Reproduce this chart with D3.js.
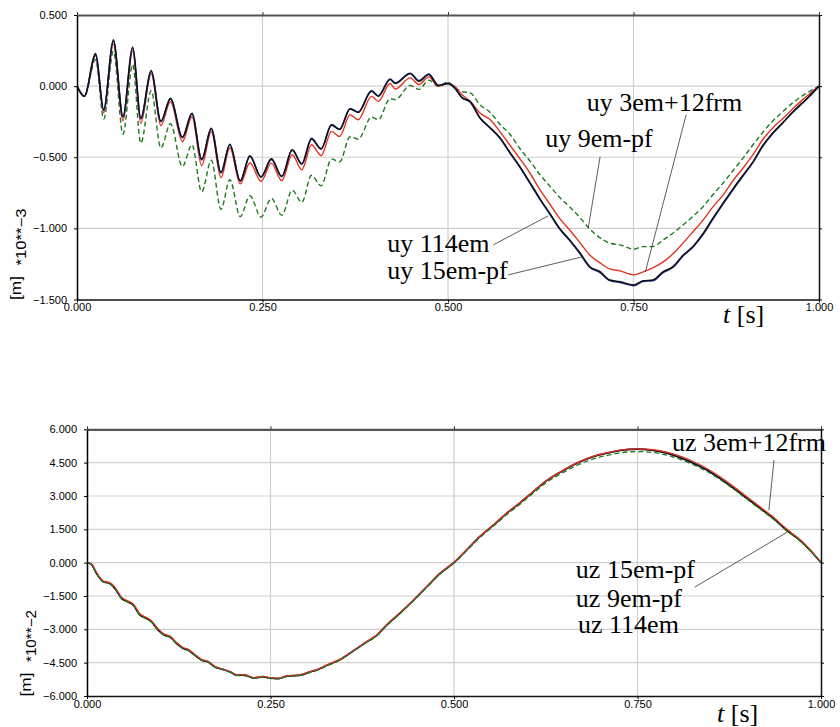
<!DOCTYPE html>
<html><head><meta charset="utf-8">
<script src="https://cdn.jsdelivr.net/npm/d3@7"></script>
<style>
body{margin:0;background:#fff}
svg{display:block;background:#fff}
.tick text{font-family:"Liberation Sans",Arial,sans-serif;font-size:11px;fill:#000}
.lbl{font-family:"Liberation Serif","Times New Roman",Times,serif;font-size:26px;fill:#000}
.unit{font-family:"Liberation Sans",Arial,sans-serif;fill:#000}
</style></head><body>
<svg id="c" width="840" height="727"></svg>
<script>
// ---------- data ----------
const xTicks = [0, 0.25, 0.5, 0.75, 1];
const uyTicks = [0.5, 0, -0.5, -1, -1.5];
const uzTicks = [6, 4.5, 3, 1.5, 0, -1.5, -3, -4.5, -6];

// top panel: uy [m] *10**-3
const tTop = [0.000,0.010,0.025,0.036,0.049,0.062,0.075,0.086,0.100,0.113,0.126,0.142,0.155,0.168,0.181,0.194,0.206,0.220,0.233,0.248,0.262,0.276,0.290,0.303,0.316,0.329,0.343,0.354,0.368,0.379,0.397,0.406,0.422,0.429,0.449,0.461,0.474,0.487,0.500,
  0.509,0.519,0.530,0.543,0.557,0.570,0.584,0.597,0.611,0.624,0.637,0.651,0.664,0.678,0.691,0.705,0.718,0.732,0.750,0.763,0.776,0.790,0.803,0.817,0.830,0.844,0.857,0.871,0.884,0.898,0.911,0.925,0.938,0.951,0.965,0.978,0.989,1.000];
const uy114em = [0,-0.072,0.229,-0.165,0.327,-0.213,0.276,-0.224,0.111,-0.246,-0.085,-0.359,-0.190,-0.514,-0.296,-0.606,-0.408,-0.665,-0.489,-0.637,-0.511,-0.634,-0.447,-0.546,-0.372,-0.442,-0.275,-0.306,-0.161,-0.185,-0.037,-0.072,0.046,0.018,0.088,0.034,0.081,0.004,0.018,
  -0.013,-0.083,-0.109,-0.224,-0.292,-0.363,-0.470,-0.567,-0.682,-0.792,-0.893,-1.004,-1.081,-1.173,-1.269,-1.304,-1.363,-1.375,-1.398,-1.368,-1.363,
  -1.304,-1.269,-1.187,-1.128,-1.034,-0.928,-0.820,-0.722,-0.623,-0.532,-0.412,-0.327,-0.257,-0.180,-0.116,-0.060,0];
const uy15empf = [0,-0.070,0.222,-0.170,0.318,-0.218,0.268,-0.230,0.104,-0.250,-0.090,-0.362,-0.195,-0.518,-0.300,-0.610,-0.412,-0.668,-0.494,-0.640,-0.515,-0.636,-0.450,-0.548,-0.368,-0.440,-0.270,-0.302,-0.158,-0.182,-0.032,-0.068,0.050,0.022,0.090,0.038,0.084,0.006,0.020,
  -0.012,-0.080,-0.112,-0.222,-0.296,-0.366,-0.474,-0.570,-0.686,-0.796,-0.897,-1.008,-1.085,-1.178,-1.272,-1.310,-1.366,-1.380,-1.402,-1.372,-1.368,
  -1.310,-1.274,-1.192,-1.132,-1.040,-0.934,-0.826,-0.728,-0.628,-0.536,-0.416,-0.330,-0.260,-0.182,-0.118,-0.062,0];
const uy9empf = [0,-0.072,0.187,-0.231,0.245,-0.338,0.151,-0.401,-0.032,-0.435,-0.264,-0.565,-0.412,-0.743,-0.521,-0.866,-0.658,-0.917,-0.771,-0.921,-0.789,-0.908,-0.732,-0.817,-0.627,-0.701,-0.513,-0.532,-0.356,-0.373,-0.218,-0.236,-0.088,-0.095,0.004,-0.023,0.042,0.000,0.028,
  -0.011,-0.039,-0.048,-0.130,-0.185,-0.268,-0.342,-0.440,-0.530,-0.623,-0.701,-0.785,-0.849,-0.926,-1.004,-1.067,-1.104,-1.116,-1.146,-1.128,-1.128,
  -1.081,-1.034,-0.975,-0.917,-0.846,-0.764,-0.680,-0.595,-0.504,-0.412,-0.320,-0.243,-0.180,-0.116,-0.067,-0.032,0];
const uy3em12frm = [0,-0.074,0.215,-0.187,0.299,-0.243,0.250,-0.261,0.088,-0.278,-0.109,-0.391,-0.215,-0.560,-0.320,-0.644,-0.433,-0.687,-0.539,-0.670,-0.541,-0.665,-0.482,-0.588,-0.412,-0.489,-0.318,-0.354,-0.201,-0.236,-0.072,-0.107,0.018,-0.020,0.058,0.011,0.065,-0.001,0.018,
  -0.001,-0.060,-0.107,-0.189,-0.236,-0.320,-0.419,-0.511,-0.616,-0.729,-0.827,-0.933,-1.011,-1.102,-1.187,-1.243,-1.285,-1.299,-1.327,-1.306,-1.278,
  -1.236,-1.180,-1.102,-1.025,-0.940,-0.849,-0.764,-0.665,-0.574,-0.482,-0.370,-0.292,-0.229,-0.158,-0.095,-0.046,0];

// bottom panel: uz [m] *10**-2
const tBot = [0.000,0.006,0.013,0.022,0.031,0.038,0.047,0.056,0.063,0.072,0.081,0.088,0.097,0.106,0.113,0.122,0.131,0.138,0.147,0.156,0.165,0.174,0.184,0.195,0.204,0.215,0.227,0.240,0.249,0.261,0.272,0.290,0.304,0.315,0.327,0.345,0.363,0.381,0.395,0.408,0.426,0.445,0.463,0.481,0.500,0.517,0.535,0.554,0.572,0.590,0.608,0.626,0.644,0.672,0.690,0.708,0.726,0.750,0.772,0.790,0.808,0.826,0.844,0.862,0.881,0.899,0.917,0.935,0.953,0.971,0.985,1.000];
const uz114em = [0,-0.08,-0.49,-0.86,-0.94,-1.16,-1.61,-1.77,-1.91,-2.36,-2.51,-2.67,-3.04,-3.27,-3.34,-3.64,-3.86,-3.94,-4.17,-4.39,-4.47,-4.69,-4.80,-4.92,-5.07,-5.07,-5.19,-5.14,-5.20,-5.22,-5.11,-5.07,-4.92,-4.81,-4.62,-4.36,-3.97,-3.57,-3.27,-2.82,-2.29,-1.69,-1.09,-0.49,0.00,0.56,1.16,1.69,2.22,2.69,3.19,3.68,4.05,4.54,4.77,4.92,5.04,5.10,5.04,4.92,4.72,4.47,4.17,3.79,3.34,2.89,2.44,1.99,1.46,1.01,0.56,0];
const uz15empf = [0,-0.07,-0.48,-0.85,-0.93,-1.15,-1.60,-1.76,-1.90,-2.35,-2.50,-2.66,-3.03,-3.26,-3.33,-3.63,-3.85,-3.93,-4.16,-4.38,-4.46,-4.68,-4.79,-4.91,-5.06,-5.06,-5.18,-5.13,-5.19,-5.21,-5.10,-5.06,-4.91,-4.80,-4.61,-4.35,-3.96,-3.56,-3.26,-2.81,-2.28,-1.68,-1.08,-0.48,0.01,0.57,1.17,1.70,2.23,2.70,3.20,3.69,4.06,4.55,4.78,4.93,5.05,5.11,5.05,4.93,4.73,4.48,4.18,3.80,3.35,2.90,2.45,2.00,1.47,1.02,0.57,0];
const uz9empf = [0,-0.09,-0.50,-0.87,-0.95,-1.18,-1.62,-1.79,-1.93,-2.37,-2.53,-2.68,-3.06,-3.28,-3.36,-3.65,-3.88,-3.96,-4.18,-4.40,-4.49,-4.70,-4.81,-4.93,-5.08,-5.09,-5.20,-5.16,-5.21,-5.23,-5.13,-5.08,-4.94,-4.83,-4.64,-4.38,-3.99,-3.59,-3.29,-2.85,-2.31,-1.71,-1.11,-0.51,-0.02,0.53,1.12,1.65,2.17,2.63,3.13,3.61,3.97,4.44,4.67,4.82,4.94,5.00,4.95,4.84,4.65,4.41,4.12,3.75,3.31,2.86,2.41,1.96,1.44,0.99,0.55,0];
const uz3em12frm = [0,-0.05,-0.44,-0.82,-0.90,-1.10,-1.55,-1.73,-1.86,-2.30,-2.47,-2.62,-2.98,-3.23,-3.30,-3.59,-3.82,-3.90,-4.13,-4.35,-4.44,-4.66,-4.78,-4.90,-5.05,-5.05,-5.17,-5.12,-5.18,-5.20,-5.10,-5.05,-4.90,-4.79,-4.60,-4.34,-3.95,-3.55,-3.24,-2.80,-2.27,-1.67,-1.07,-0.47,0.02,0.58,1.18,1.71,2.24,2.71,3.21,3.70,4.07,4.56,4.79,4.94,5.06,5.12,5.08,4.97,4.79,4.55,4.25,3.88,3.43,2.97,2.51,2.05,1.52,1.05,0.60,0];

// annotation labels (data coordinates: t, value)
const topLabels = [
  {text:"uy 3em+12frm", t:0.687, v:-0.173},
  {text:"uy 9em-pf",    t:0.631, v:-0.426},
  {text:"uy 114em",     t:0.418, v:-1.165},
  {text:"uy 15em-pf",   t:0.418, v:-1.356}
];
const topLeaders = [
  [[0.821,-0.201],[0.766,-1.306]],
  [[0.705,-0.496],[0.689,-0.996]],
  [[0.561,-1.116],[0.635,-0.912]],
  [[0.581,-1.327],[0.681,-1.200]]
];
const botLabels = [
  {text:"uz 3em+12frm", t:0.797, v:5.02},
  {text:"uz 15em-pf",   t:0.666, v:-0.70},
  {text:"uz 9em-pf",    t:0.666, v:-2.00},
  {text:"uz 114em",     t:0.669, v:-3.15}
];
const botLeaders = [
  [[0.936,4.62],[0.929,2.36]],
  [[0.828,-1.10],[0.954,1.37]]
];

// ---------- drawing ----------
const svg = d3.select("#c");
const COL = {black:"#111111", blue:"#1f2f8f", red:"#e3331f", green:"#1e7a1e"};

function panel(o){
  const x = d3.scaleLinear().domain([0,1]).range([o.left,o.right]);
  const y = d3.scaleLinear().domain([o.yTicks[o.yTicks.length-1], o.yTicks[0]]).range([o.bottom,o.top]);
  const g = svg.append("g");
  const fmt = d3.format(".3f");

  // grid
  g.append("g").selectAll("line").data(o.yTicks.slice(1,-1)).join("line")
    .attr("x1",o.left).attr("x2",o.right).attr("y1",d=>y(d)).attr("y2",d=>y(d))
    .attr("stroke","#cfcfcf").attr("stroke-width",1.2);
  g.append("g").selectAll("line").data(xTicks.slice(1,-1)).join("line")
    .attr("y1",o.top).attr("y2",o.bottom).attr("x1",d=>x(d)).attr("x2",d=>x(d))
    .attr("stroke","#cfcfcf").attr("stroke-width",1.2);

  // series
  const line = (t,v)=>d3.line().curve(d3.curveMonotoneX).x(i=>x(t[i])).y(i=>y(v[i]))(d3.range(t.length));
  o.series.forEach(s=>{
    g.append("path").attr("d",line(s.t,s.v)).attr("fill","none")
      .attr("stroke",s.color).attr("stroke-width",s.w)
      .attr("stroke-dasharray",s.dash||null).attr("stroke-linejoin","round");
  });

  // frame axes
  const top = g.append("g").attr("transform",`translate(0,${o.top})`)
    .call(d3.axisTop(x).tickValues(xTicks).tickSize(3).tickSizeOuter(0).tickFormat(""));
  top.select(".domain").attr("stroke","#555").attr("stroke-width",2.2);
  top.selectAll(".tick line").attr("stroke","#333");
  const right = g.append("g").attr("transform",`translate(${o.right},0)`)
    .call(d3.axisRight(y).tickValues(o.yTicks).tickSize(3).tickSizeOuter(0).tickFormat(""));
  right.select(".domain").attr("stroke","#111").attr("stroke-width",1.5);
  const left = g.append("g").attr("transform",`translate(${o.left},0)`)
    .call(d3.axisLeft(y).tickValues(o.yTicks).tickSize(3).tickSizeOuter(0).tickPadding(7).tickFormat(fmt));
  left.select(".domain").attr("stroke","#000").attr("stroke-width",1.5);
  left.selectAll(".tick line").attr("stroke","#000");
  const bot = g.append("g").attr("transform",`translate(0,${o.bottom})`)
    .call(d3.axisBottom(x).tickValues(xTicks).tickSize(3).tickSizeOuter(0).tickPadding(1).tickFormat(fmt));
  bot.select(".domain").attr("stroke","#111").attr("stroke-width",1.6);
  bot.selectAll(".tick line").attr("stroke","#000");
  svg.selectAll(".domain").attr("fill","none");
  [top,right,left,bot].forEach(a=>a.attr("font-family",null).attr("font-size",null));

  // leaders + labels
  g.append("g").selectAll("line").data(o.leaders).join("line")
    .attr("x1",d=>x(d[0][0])).attr("y1",d=>y(d[0][1]))
    .attr("x2",d=>x(d[1][0])).attr("y2",d=>y(d[1][1]))
    .attr("stroke","#333").attr("stroke-width",0.8);
  g.append("g").selectAll("text").data(o.labels).join("text")
    .attr("class","lbl").attr("x",d=>x(d.t)).attr("y",d=>y(d.v)).text(d=>d.text);

  // x title
  const tt = g.append("text").attr("class","lbl").attr("x",o.tx).attr("y",o.ty);
  tt.append("tspan").attr("font-style","italic").text("t");
  tt.append("tspan").text(" [s]");

  // y unit
  g.append("text").attr("class","unit").attr("font-size",14)
    .attr("transform",`translate(${o.left-56},${o.bottom+0.5}) rotate(-90)`)
    .attr("textLength",24).attr("lengthAdjust","spacingAndGlyphs").text("[m]");
  g.append("text").attr("class","unit").attr("font-size",14)
    .attr("transform",`translate(${o.left-51},${o.bottom-34}) rotate(-90)`)
    .attr("textLength",o.expLen).attr("lengthAdjust","spacingAndGlyphs").text(o.exp);
}

panel({left:77,right:819,top:15,bottom:299.5,yTicks:uyTicks,
  series:[
    {t:tTop,v:uy9empf,color:COL.green,w:1.4,dash:"5,3"},
    {t:tTop,v:uy3em12frm,color:COL.red,w:1.4},
    {t:tTop,v:uy15empf,color:COL.blue,w:1.7},
    {t:tTop,v:uy114em,color:COL.black,w:1.4}
  ],
  labels:topLabels, leaders:topLeaders, tx:723, ty:323, exp:"*10**\u22123", expLen:57});

panel({left:87,right:821,top:429.3,bottom:696,yTicks:uzTicks,
  series:[
    {t:tBot,v:uz15empf,color:COL.blue,w:1.6},
    {t:tBot,v:uz114em,color:COL.black,w:1.4},
    {t:tBot,v:uz3em12frm,color:COL.red,w:1.3},
    {t:tBot,v:uz9empf,color:COL.green,w:1.3,dash:"5,3"}
  ],
  labels:botLabels, leaders:botLeaders, tx:717, ty:722, exp:"*10**\u22122", expLen:52});
</script>
</body></html>
